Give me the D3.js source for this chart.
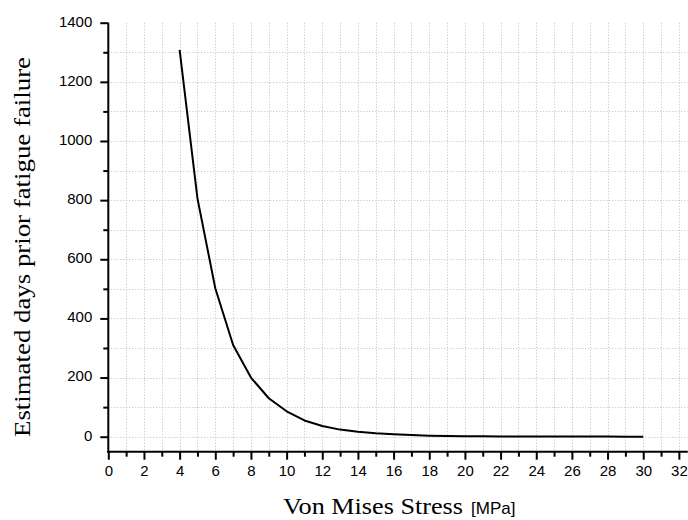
<!DOCTYPE html>
<html>
<head>
<meta charset="utf-8">
<script src="https://cdn.jsdelivr.net/npm/d3@7/dist/d3.min.js"></script>
<style>
  html, body { margin: 0; padding: 0; background: #fff; }
  svg { display: block; }
</style>
</head>
<body>
<svg id="chart" width="688" height="520"></svg>
<script>
// ---- data ----
const stress = [4, 5, 6, 7, 8, 9, 10, 11, 12, 13, 14, 15, 16, 17, 18, 19, 20, 21, 22, 23, 24, 25, 26, 27, 28, 29, 30];
const days = [1308, 806, 502, 310, 200, 130, 86, 55, 36, 24, 17, 12, 8.5, 5.5, 3.5, 2.2, 1.6, 1.2, 1, 0.8, 0.6, 0.5, 0.4, 0.35, 0.3, 0.25, 0.2];
const xTickLabels = [0, 2, 4, 6, 8, 10, 12, 14, 16, 18, 20, 22, 24, 26, 28, 30, 32];
const yTickLabels = [0, 200, 400, 600, 800, 1000, 1200, 1400];
const xTitle = "Von Mises Stress";
const xUnit = "[MPa]";
const yTitle = "Estimated days prior fatigue failure";

// ---- layout ----
const pLeft = 108.3, pRight = 687.8, pTop = 22.7, pBottom = 451.7;
const x = d3.scaleLinear().domain([0, 32.5]).range([pLeft, pRight]);
const y = d3.scaleLinear().domain([-50.7, 1400]).range([pBottom, pTop]);

const svg = d3.select("#chart");

// grid
const gridColor = "#bdbdbd";
const grid = svg.append("g");
const vGrid = d3.range(1, 33);
grid.selectAll("line.v").data(vGrid).enter().append("line")
  .attr("x1", d => Math.round(x(d)) + 0.5).attr("x2", d => Math.round(x(d)) + 0.5)
  .attr("y1", pTop).attr("y2", pBottom)
  .attr("stroke", gridColor).attr("stroke-width", 1).attr("stroke-dasharray", "1,2");
const hGrid = d3.range(0, 1400, 100);
grid.selectAll("line.h").data(hGrid).enter().append("line")
  .attr("x1", pLeft).attr("x2", pRight)
  .attr("y1", d => Math.round(y(d)) + 0.5).attr("y2", d => Math.round(y(d)) + 0.5)
  .attr("stroke", gridColor).attr("stroke-width", 1).attr("stroke-dasharray", "1,2");

// curve
const line = d3.line().x((d, i) => x(stress[i])).y(d => y(d));
svg.append("path").datum(days)
  .attr("d", line)
  .attr("fill", "none").attr("stroke", "#000").attr("stroke-width", 2)
  .attr("stroke-linejoin", "round");

// x axis
const xAxisMajor = d3.axisBottom(x).tickValues(xTickLabels).tickSize(8).tickPadding(6).tickFormat(d3.format("d"));
const xAxisMinor = d3.axisBottom(x).tickValues(d3.range(1, 33, 2)).tickSize(5).tickFormat("");
const gxm = svg.append("g").attr("transform", `translate(0,${pBottom})`).call(xAxisMinor);
const gx = svg.append("g").attr("transform", `translate(0,${pBottom})`).call(xAxisMajor);
[gx, gxm].forEach(g => {
  g.select(".domain").remove();
  g.selectAll("line").attr("stroke", "#000").attr("stroke-width", 2);
});
gx.selectAll("text").attr("font-family", "Liberation Sans, Arial, sans-serif")
  .attr("font-size", 15).attr("fill", "#000");
svg.append("line").attr("x1", pLeft - 1).attr("x2", pRight).attr("y1", pBottom).attr("y2", pBottom)
  .attr("stroke", "#000").attr("stroke-width", 2);

// y axis
const yAxisMajor = d3.axisLeft(y).tickValues(yTickLabels).tickSize(8).tickPadding(8).tickFormat(d3.format("d"));
const yAxisMinor = d3.axisLeft(y).tickValues(d3.range(100, 1400, 200)).tickSize(5).tickFormat("");
const gym = svg.append("g").attr("transform", `translate(${pLeft},0)`).call(yAxisMinor);
const gy = svg.append("g").attr("transform", `translate(${pLeft},0)`).call(yAxisMajor);
[gy, gym].forEach(g => {
  g.select(".domain").remove();
  g.selectAll("line").attr("stroke", "#000").attr("stroke-width", 2);
});
gy.selectAll("text").attr("font-family", "Liberation Sans, Arial, sans-serif")
  .attr("font-size", 15).attr("fill", "#000").attr("dy", "0.22em");
svg.append("line").attr("x1", pLeft).attr("x2", pLeft).attr("y1", pTop).attr("y2", pBottom + 1)
  .attr("stroke", "#000").attr("stroke-width", 2);

// titles
svg.append("text")
  .attr("x", 283).attr("y", 514)
  .attr("font-family", "Liberation Serif, Times New Roman, serif")
  .attr("font-size", 24).attr("fill", "#000")
  .attr("textLength", 180).attr("lengthAdjust", "spacingAndGlyphs")
  .text(xTitle);
svg.append("text")
  .attr("x", 471).attr("y", 514)
  .attr("font-family", "Liberation Sans, Arial, sans-serif")
  .attr("font-size", 17).attr("fill", "#000")
  .text(xUnit);
svg.append("text")
  .attr("transform", "translate(30,437) rotate(-90)")
  .attr("font-family", "Liberation Serif, Times New Roman, serif")
  .attr("font-size", 24).attr("fill", "#000")
  .attr("textLength", 380).attr("lengthAdjust", "spacingAndGlyphs")
  .text(yTitle);
</script>
</body>
</html>
